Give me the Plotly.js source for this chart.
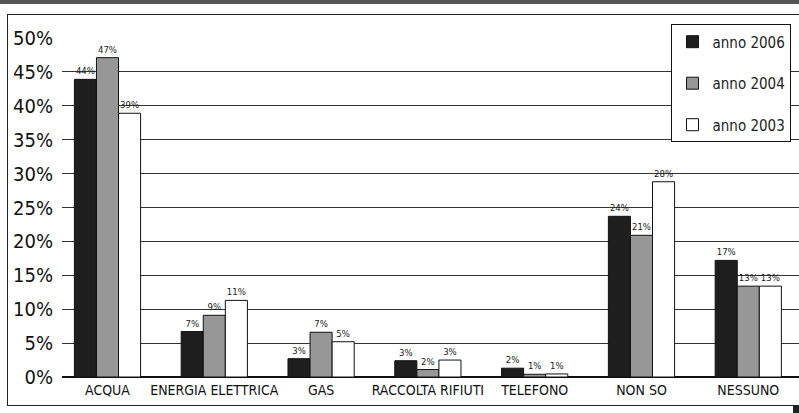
<!DOCTYPE html>
<html>
<head>
<meta charset="utf-8">
<script src="https://cdn.plot.ly/plotly-3.0.1.min.js"></script>
<style>
html,body{margin:0;padding:0;background:#fff;}
#wrap{position:relative;width:799px;height:413px;overflow:hidden;}
#chart{position:absolute;left:0;top:0;width:799px;height:413px;}
#band{position:absolute;left:0;top:0;width:799px;height:4px;background:#555;}
#frame{position:absolute;left:7px;top:14px;width:800px;height:390px;border:1px solid #222;pointer-events:none;}
#sq{position:absolute;left:793px;top:406px;width:6px;height:7px;background:#222;}
</style>
</head>
<body>
<div id="wrap">
<div id="band"></div>
<div id="frame"></div>
<div id="sq"></div>
<div id="chart"></div>
</div>
<script>
const categories = ["ACQUA","ENERGIA ELETTRICA","GAS","RACCOLTA RIFIUTI","TELEFONO","NON SO","NESSUNO"];
const seriesNames = ["anno 2006","anno 2004","anno 2003"];
const v2006 = [43.9, 6.7, 2.7, 2.4, 1.3, 23.7, 17.2];
const v2004 = [47.1, 9.1, 6.6, 1.1, 0.4, 20.9, 13.4];
const v2003 = [38.9, 11.3, 5.2, 2.5, 0.45, 28.8, 13.4];
const l2006 = ["44%","7%","3%","3%","2%","24%","17%"];
const l2004 = ["47%","9%","7%","2%","1%","21%","13%"];
const l2003 = ["39%","11%","5%","3%","1%","28%","13%"];
const yTicks = [0,5,10,15,20,25,30,35,40,45,50];
const yTickText = yTicks.map(v => v + "%");

const colors = ["#1e1e1e","#979797","#ffffff"];
const vals = [v2006, v2004, v2003];
const labs = [l2006, l2004, l2003];
const FONT = "'DejaVu Sans Condensed','Liberation Sans Narrow','Arial Narrow',sans-serif";

const data = vals.map((v,i) => ({
  type: "bar",
  name: seriesNames[i],
  x: categories,
  y: v,
  text: labs[i],
  texttemplate: "%{text}",
  textposition: "outside",
  cliponaxis: false,
  textfont: {family: FONT, size: 9.5, color: "#222"},
  marker: {color: colors[i], line: {color: "#111", width: 1}},
  legendgroup: "g"+i,
  hoverinfo: "none"
}));

const layout = {
  width: 799, height: 413,
  margin: {l: 62, r: 0, t: 38, b: 36},
  paper_bgcolor: "rgba(0,0,0,0)",
  plot_bgcolor: "rgba(0,0,0,0)",
  barmode: "group",
  bargap: 0.38,
  bargroupgap: 0,
  showlegend: true,
  legend: {
    x: 0.827, y: 1.04, xanchor: "left", yanchor: "top",
    bgcolor: "#fff", bordercolor: "#111", borderwidth: 1,
    font: {family: FONT, size: 15, color: "#222"},
    tracegroupgap: 19, traceorder: "grouped",
    itemwidth: 30
  },
  xaxis: {
    type: "category",
    range: [-0.426, 6.475],
    showgrid: false, zeroline: false, showline: false,
    ticks: "",
    ticklabelstandoff: 3,
    tickfont: {family: FONT, size: 14, color: "#111"}
  },
  yaxis: {
    range: [0, 50],
    tickvals: yTicks,
    ticktext: yTickText,
    showgrid: true, gridcolor: "#333", gridwidth: 1,
    zeroline: true, zerolinecolor: "#111", zerolinewidth: 1.5,
    showline: false, ticks: "",
    ticklabelstandoff: 8,
    tickfont: {family: FONT, size: 20, color: "#111"}
  }
};

Plotly.newPlot("chart", data, layout, {displayModeBar: false, staticPlot: true});
</script>
</body>
</html>
